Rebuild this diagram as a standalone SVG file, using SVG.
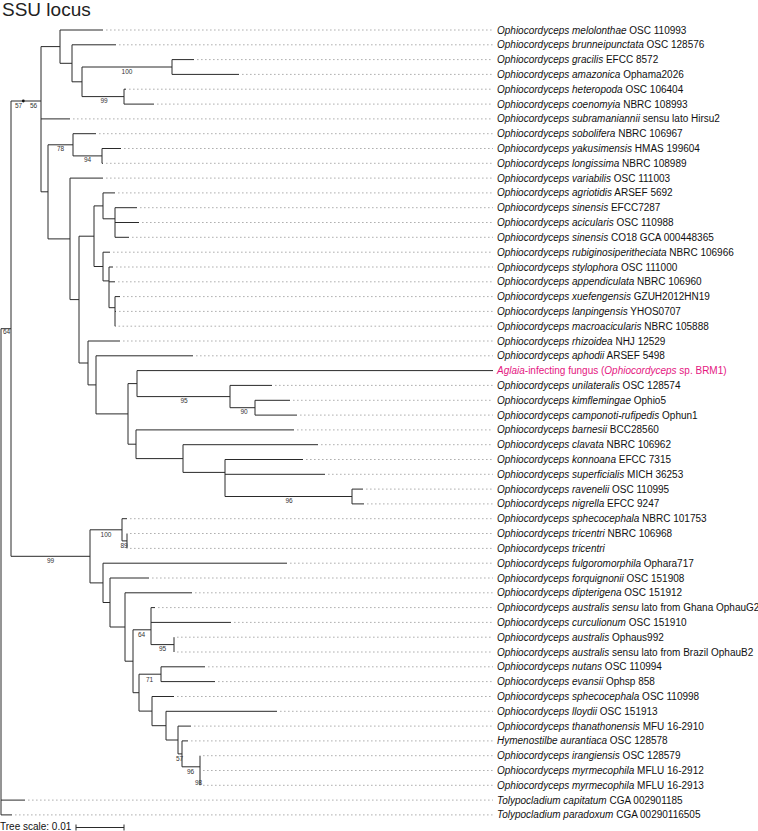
<svg xmlns="http://www.w3.org/2000/svg" width="758" height="831" viewBox="0 0 758 831">
<style>
.t{font-family:"Liberation Sans",Arial,sans-serif;font-size:10px;fill:#111}
.i{font-style:italic}
.pk{fill:#e5177f}
.bs{font-family:"Liberation Sans",Arial,sans-serif;font-size:6.5px;fill:#333;text-anchor:middle}
.br{fill:none;stroke:#2a2a2a;stroke-width:1}
.ld{fill:none;stroke:#9c9c9c;stroke-width:0.8;stroke-dasharray:1.6 2.4}
</style>
<rect width="758" height="831" fill="#fff"/>
<text x="2" y="16" font-family="Liberation Sans,Arial,sans-serif" font-size="19" fill="#222">SSU locus</text>
<g id="connectors">
<path class="br" d="M1 328.7V814.9M1 328.7H11M1 800.1H25M1 814.9H12
M11 101V556.3M11 101H41M11 556.3H90
M41 46.6V191.8M41 46.6H60M41 118.9H70M41 191.8H48
M60 30V63.3M60 30H103M60 63.3H72
M72 44.8V81.8M72 44.8H116M72 81.8H82
M82 67V96.6M82 67H172M82 96.6H124
M172 59.6V74.4M172 59.6H194M172 74.4H239
M124 89.2V104.1M124 89.2H126M124 104.1H154
M48 144.8V238.9M48 144.8H73M48 238.9H70
M73 133.7V155.9M73 133.7H96M73 155.9H102
M102 148.5V163.3M102 148.5H121M102 163.3H103
M70 178.1V299.6M70 178.1H103M70 299.6H79
M79 236.2V363M79 236.2H94M79 363H88
M94 205.9V266.5M94 205.9H103M94 266.5H103
M103 192.9V218.8M103 192.9H115M103 218.8H115
M115 207.7V237.3M115 207.7H137M115 222.5H139M115 237.3H129
M103 252.2V280.9M103 252.2H110M103 280.9H109
M109 267V307.7M109 267H113M109 281.8H115M109 307.7H115
M115 296.6V326.2M115 296.6H120M115 311.4H116M115 326.2H115.5
M88 341V384.9M88 341H120M88 384.9H96
M96 355.8V413.9M96 355.8H193M96 413.9H128
M128 383.6V444.2M128 383.6H137M128 444.2H136
M137 370.6V396.6M137 370.6H493M137 396.6H230
M230 385.4V407.7M230 385.4H272M230 407.7H255
M255 400.3V415.1M255 400.3H290M255 415.1H297
M136 429.9V458.6M136 429.9H294M136 458.6H183
M183 444.7V472.4M183 444.7H318M183 472.4H225
M225 459.5V496.5M225 459.5H303M225 474.3H325M225 496.5H352
M352 489.1V503.9M352 489.1H363M352 503.9H364
M90 529.8V582.9M90 529.8H122M90 582.9H103
M122 518.7V540.9M122 518.7H127M122 540.9H127
M127 533.5V548.4
M103 563.2V602.5M103 563.2H287M103 602.5H110
M110 578V627M110 578H149M110 627H125
M125 592.8V661.2M125 592.8H192M125 661.2H133
M133 629.8V692.7M133 629.8H151M133 692.7H139
M151 607.6V644.6M151 607.6H155M151 622.4H231M151 644.6H174
M174 637.2V652
M139 674.2V711.1M139 674.2H161M139 711.1H152
M161 666.8V681.6M161 666.8H205M161 681.6H215
M152 696.5V725.7M152 696.5H174M152 725.7H166
M166 711.3V740M166 711.3H277M166 740H178
M178 726.1V753.9M178 726.1H191M178 753.9H182
M182 740.9V766.8M182 740.9H188M182 766.8H200
M200 755.7V785.3"/>
<circle cx="23.3" cy="101" r="1.4" fill="#111"/>
<path class="ld" d="M106 30H493M119 44.8H493M197 59.6H493M242 74.4H493M129 89.2H493M157 104.1H493M73 118.9H493M99 133.7H493M124 148.5H493M106 163.3H493M106 178.1H493M118 192.9H493M140 207.7H493M142 222.5H493M132 237.3H493M113 252.2H493M116 267H493M118 281.8H493M123 296.6H493M119 311.4H493M118.5 326.2H493M123 341H493M196 355.8H493M275 385.4H493M293 400.3H493M300 415.1H493M297 429.9H493M321 444.7H493M306 459.5H493M328 474.3H493M366 489.1H493M367 503.9H493M130 518.7H493M130 533.5H493M130 548.4H493M290 563.2H493M152 578H493M195 592.8H493M158 607.6H493M234 622.4H493M177 637.2H493M177 652H493M208 666.8H493M218 681.6H493M177 696.5H493M280 711.3H493M194 726.1H493M191 740.9H493M203 755.7H493M203 770.5H493M203 785.3H493M28 800.1H493M15 814.9H493"/>
</g>
<g id="support">
<text class="bs" x="127" y="73.5">100</text>
<text class="bs" x="104" y="103">99</text>
<text class="bs" x="18.5" y="107.5">57</text>
<text class="bs" x="33.5" y="107.5">56</text>
<text class="bs" x="60.5" y="151">78</text>
<text class="bs" x="87.5" y="162.4">94</text>
<text class="bs" x="6.5" y="334">64</text>
<text class="bs" x="184" y="402.5">95</text>
<text class="bs" x="244" y="414">90</text>
<text class="bs" x="289" y="502.5">96</text>
<text class="bs" x="106" y="536.5">100</text>
<text class="bs" x="124" y="547.5">89</text>
<text class="bs" x="50.5" y="563">99</text>
<text class="bs" x="141.5" y="637">64</text>
<text class="bs" x="162.5" y="651.3">95</text>
<text class="bs" x="149.5" y="681.5">71</text>
<text class="bs" x="179.5" y="760.5">57</text>
<text class="bs" x="190.5" y="773.5">96</text>
<text class="bs" x="198.5" y="784.5">98</text>
</g>
<g id="leaf-00"><text class="t" x="497" y="33.5"><tspan class="i">Ophiocordyceps melolonthae</tspan> OSC 110993</text></g>
<g id="leaf-01"><text class="t" x="497" y="48.3"><tspan class="i">Ophiocordyceps brunneipunctata</tspan> OSC 128576</text></g>
<g id="leaf-02"><text class="t" x="497" y="63.1"><tspan class="i">Ophiocordyceps gracilis</tspan> EFCC 8572</text></g>
<g id="leaf-03"><text class="t" x="497" y="77.9"><tspan class="i">Ophiocordyceps amazonica</tspan> Ophama2026</text></g>
<g id="leaf-04"><text class="t" x="497" y="92.7"><tspan class="i">Ophiocordyceps heteropoda</tspan> OSC 106404</text></g>
<g id="leaf-05"><text class="t" x="497" y="107.6"><tspan class="i">Ophiocordyceps coenomyia</tspan> NBRC 108993</text></g>
<g id="leaf-06"><text class="t" x="497" y="122.4"><tspan class="i">Ophiocordyceps subramaniannii</tspan> sensu lato Hirsu2</text></g>
<g id="leaf-07"><text class="t" x="497" y="137.2"><tspan class="i">Ophiocordyceps sobolifera</tspan> NBRC 106967</text></g>
<g id="leaf-08"><text class="t" x="497" y="152"><tspan class="i">Ophiocordyceps yakusimensis</tspan> HMAS 199604</text></g>
<g id="leaf-09"><text class="t" x="497" y="166.8"><tspan class="i">Ophiocordyceps longissima</tspan> NBRC 108989</text></g>
<g id="leaf-10"><text class="t" x="497" y="181.6"><tspan class="i">Ophiocordyceps variabilis</tspan> OSC 111003</text></g>
<g id="leaf-11"><text class="t" x="497" y="196.4"><tspan class="i">Ophiocordyceps agriotidis</tspan> ARSEF 5692</text></g>
<g id="leaf-12"><text class="t" x="497" y="211.2"><tspan class="i">Ophiocordyceps sinensis</tspan> EFCC7287</text></g>
<g id="leaf-13"><text class="t" x="497" y="226"><tspan class="i">Ophiocordyceps acicularis</tspan> OSC 110988</text></g>
<g id="leaf-14"><text class="t" x="497" y="240.8"><tspan class="i">Ophiocordyceps sinensis</tspan> CO18 GCA 000448365</text></g>
<g id="leaf-15"><text class="t" x="497" y="255.7"><tspan class="i">Ophiocordyceps rubiginosiperitheciata</tspan> NBRC 106966</text></g>
<g id="leaf-16"><text class="t" x="497" y="270.5"><tspan class="i">Ophiocordyceps stylophora</tspan> OSC 111000</text></g>
<g id="leaf-17"><text class="t" x="497" y="285.3"><tspan class="i">Ophiocordyceps appendiculata</tspan> NBRC 106960</text></g>
<g id="leaf-18"><text class="t" x="497" y="300.1"><tspan class="i">Ophiocordyceps xuefengensis</tspan> GZUH2012HN19</text></g>
<g id="leaf-19"><text class="t" x="497" y="314.9"><tspan class="i">Ophiocordyceps lanpingensis</tspan> YHOS0707</text></g>
<g id="leaf-20"><text class="t" x="497" y="329.7"><tspan class="i">Ophiocordyceps macroacicularis</tspan> NBRC 105888</text></g>
<g id="leaf-21"><text class="t" x="497" y="344.5"><tspan class="i">Ophiocordyceps rhizoidea</tspan> NHJ 12529</text></g>
<g id="leaf-22"><text class="t" x="497" y="359.3"><tspan class="i">Ophiocordyceps aphodii</tspan> ARSEF 5498</text></g>
<g id="leaf-23"><text class="t pk" x="497" y="374.1"><tspan class="i">Aglaia</tspan>-infecting fungus (<tspan class="i">Ophiocordyceps</tspan> sp. BRM1)</text></g>
<g id="leaf-24"><text class="t" x="497" y="388.9"><tspan class="i">Ophiocordyceps unilateralis</tspan> OSC 128574</text></g>
<g id="leaf-25"><text class="t" x="497" y="403.8"><tspan class="i">Ophiocordyceps kimflemingae</tspan> Ophio5</text></g>
<g id="leaf-26"><text class="t" x="497" y="418.6"><tspan class="i">Ophiocordyceps camponoti-rufipedis</tspan> Ophun1</text></g>
<g id="leaf-27"><text class="t" x="497" y="433.4"><tspan class="i">Ophiocordyceps barnesii</tspan> BCC28560</text></g>
<g id="leaf-28"><text class="t" x="497" y="448.2"><tspan class="i">Ophiocordyceps clavata</tspan> NBRC 106962</text></g>
<g id="leaf-29"><text class="t" x="497" y="463"><tspan class="i">Ophiocordyceps konnoana</tspan> EFCC 7315</text></g>
<g id="leaf-30"><text class="t" x="497" y="477.8"><tspan class="i">Ophiocordyceps superficialis</tspan> MICH 36253</text></g>
<g id="leaf-31"><text class="t" x="497" y="492.6"><tspan class="i">Ophiocordyceps ravenelii</tspan> OSC 110995</text></g>
<g id="leaf-32"><text class="t" x="497" y="507.4"><tspan class="i">Ophiocordyceps nigrella</tspan> EFCC 9247</text></g>
<g id="leaf-33"><text class="t" x="497" y="522.2"><tspan class="i">Ophiocordyceps sphecocephala</tspan> NBRC 101753</text></g>
<g id="leaf-34"><text class="t" x="497" y="537"><tspan class="i">Ophiocordyceps tricentri</tspan> NBRC 106968</text></g>
<g id="leaf-35"><text class="t" x="497" y="551.9"><tspan class="i">Ophiocordyceps tricentri</tspan></text></g>
<g id="leaf-36"><text class="t" x="497" y="566.7"><tspan class="i">Ophiocordyceps fulgoromorphila</tspan> Ophara717</text></g>
<g id="leaf-37"><text class="t" x="497" y="581.5"><tspan class="i">Ophiocordyceps forquignonii</tspan> OSC 151908</text></g>
<g id="leaf-38"><text class="t" x="497" y="596.3"><tspan class="i">Ophiocordyceps dipterigena</tspan> OSC 151912</text></g>
<g id="leaf-39"><text class="t" x="497" y="611.1"><tspan class="i">Ophiocordyceps australis sensu</tspan> lato from Ghana OphauG2</text></g>
<g id="leaf-40"><text class="t" x="497" y="625.9"><tspan class="i">Ophiocordyceps curculionum</tspan> OSC 151910</text></g>
<g id="leaf-41"><text class="t" x="497" y="640.7"><tspan class="i">Ophiocordyceps australis</tspan> Ophaus992</text></g>
<g id="leaf-42"><text class="t" x="497" y="655.5"><tspan class="i">Ophiocordyceps australis</tspan> sensu lato from Brazil OphauB2</text></g>
<g id="leaf-43"><text class="t" x="497" y="670.3"><tspan class="i">Ophiocordyceps nutans</tspan> OSC 110994</text></g>
<g id="leaf-44"><text class="t" x="497" y="685.1"><tspan class="i">Ophiocordyceps evansii</tspan> Ophsp 858</text></g>
<g id="leaf-45"><text class="t" x="497" y="700"><tspan class="i">Ophiocordyceps sphecocephala</tspan> OSC 110998</text></g>
<g id="leaf-46"><text class="t" x="497" y="714.8"><tspan class="i">Ophiocordyceps lloydii</tspan> OSC 151913</text></g>
<g id="leaf-47"><text class="t" x="497" y="729.6"><tspan class="i">Ophiocordyceps thanathonensis</tspan> MFU 16-2910</text></g>
<g id="leaf-48"><text class="t" x="497" y="744.4"><tspan class="i">Hymenostilbe aurantiaca</tspan> OSC 128578</text></g>
<g id="leaf-49"><text class="t" x="497" y="759.2"><tspan class="i">Ophiocordyceps irangiensis</tspan> OSC 128579</text></g>
<g id="leaf-50"><text class="t" x="497" y="774"><tspan class="i">Ophiocordyceps myrmecophila</tspan> MFLU 16-2912</text></g>
<g id="leaf-51"><text class="t" x="497" y="788.8"><tspan class="i">Ophiocordyceps myrmecophila</tspan> MFLU 16-2913</text></g>
<g id="leaf-52"><text class="t" x="497" y="803.6"><tspan class="i">Tolypocladium capitatum</tspan> CGA 002901185</text></g>
<g id="leaf-53"><text class="t" x="497" y="818.4"><tspan class="i">Tolypocladium paradoxum</tspan> CGA 00290116505</text></g>
<g id="scale">
<text class="t" x="0" y="830">Tree scale: 0.01</text>
<path class="br" d="M76 827.5H124M76 824.5V830.5M124 824.5V830.5"/>
</g>
</svg>
